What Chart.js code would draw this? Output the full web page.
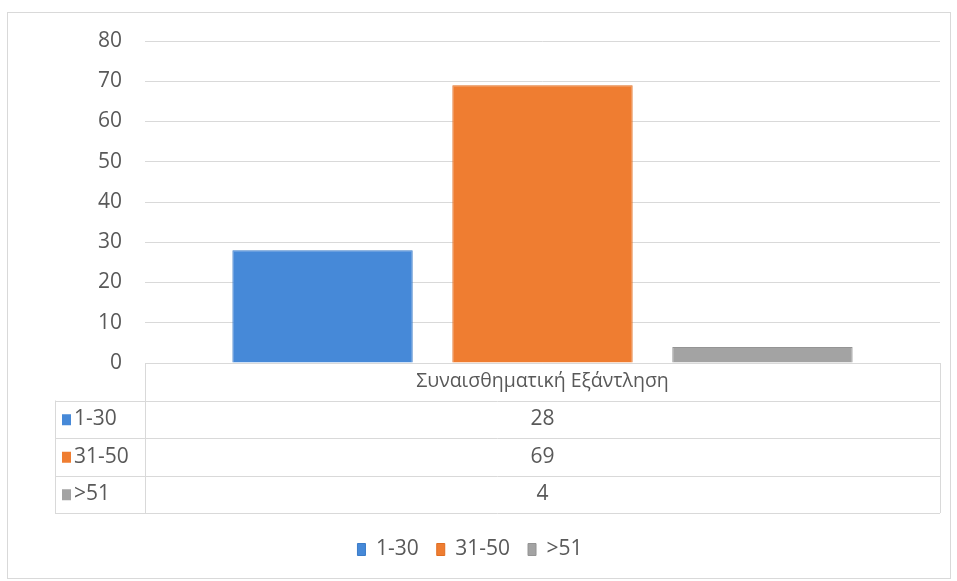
<!DOCTYPE html>
<html>
<head>
<meta charset="utf-8">
<script src="https://cdn.jsdelivr.net/npm/chart.js@4.4.1/dist/chart.umd.min.js"></script>
<style>
  html, body { margin: 0; padding: 0; background: #fff; }
  #wrap { width: 957px; height: 581px; }
</style>
</head>
<body>
<div id="wrap"><canvas id="chart"></canvas></div>
<script>
// data
const categories = ['Συναισθηματική Εξάντληση'];
const seriesNames = ['1-30', '31-50', '>51'];
const values1to30 = [28];
const values31to50 = [69];
const valuesOver51 = [4];
const yMin = 0, yMax = 80, yStep = 10;

const fillColors = ['#4689d8', '#ef7d31', '#a3a3a3'];
const edgeColors = ['#3b7cc8', '#e06e22', '#949494'];
const textColor = '#595959';
const lineColor = '#d9d9d9';
const fontFamily = '"Open Sans", "Noto Sans", sans-serif';
const fontSize = 21;
const headerSize = 19.5;

/* white page and the light frame around the whole chart */
const framePlugin = {
  id: 'frame',
  beforeDraw(chart) {
    const ctx = chart.ctx;
    ctx.save();
    ctx.fillStyle = '#fff';
    ctx.fillRect(0, 0, chart.width, chart.height);
    ctx.strokeStyle = lineColor;
    ctx.lineWidth = 1;
    ctx.strokeRect(7.5, 12.5, 943, 566);
    ctx.restore();
  }
};

/* excel style data table under the plot */
const tablePlugin = {
  id: 'dataTable',
  afterDraw(chart) {
    const ctx = chart.ctx;
    const area = chart.chartArea;
    const rowH = 37.5;
    const left = 55;
    const top = area.bottom;
    const bottom = top + rowH * 4;
    const midX = (area.left + area.right) / 2;

    ctx.save();
    ctx.strokeStyle = lineColor;
    ctx.lineWidth = 1;
    ctx.beginPath();
    // top line (axis) only over the plot
    ctx.moveTo(area.left, Math.round(top) + 0.5);
    ctx.lineTo(area.right, Math.round(top) + 0.5);
    for (let k = 1; k <= 4; k++) {
      const y = Math.round(top + rowH * k) + 0.5;
      ctx.moveTo(left, y);
      ctx.lineTo(area.right, y);
    }
    ctx.moveTo(Math.round(area.left) + 0.5, top);
    ctx.lineTo(Math.round(area.left) + 0.5, bottom);
    ctx.moveTo(Math.round(area.right) + 0.5, top);
    ctx.lineTo(Math.round(area.right) + 0.5, bottom);
    ctx.moveTo(left + 0.5, top + rowH);
    ctx.lineTo(left + 0.5, bottom);
    ctx.stroke();

    ctx.fillStyle = textColor;
    ctx.textBaseline = 'middle';
    ctx.textAlign = 'center';
    ctx.font = headerSize + 'px ' + fontFamily;
    ctx.fillText(categories[0], midX, top + rowH / 2);

    ctx.font = fontSize + 'px ' + fontFamily;
    chart.data.datasets.forEach((ds, i) => {
      const cy = top + rowH * (i + 1.5);
      ctx.fillStyle = fillColors[i];
      ctx.fillRect(62, cy - 5, 9, 11);
      ctx.fillStyle = textColor;
      ctx.textAlign = 'left';
      ctx.fillText(ds.label, 74, cy);
      ctx.textAlign = 'center';
      ctx.fillText(String(ds.data[0]), midX, cy);
    });
    ctx.restore();
  }
};

const ctx = document.getElementById('chart').getContext('2d');
const allValues = [values1to30, values31to50, valuesOver51];

new Chart(ctx, {
  type: 'bar',
  data: {
    labels: categories,
    datasets: seriesNames.map((name, i) => ({
      label: name,
      data: allValues[i],
      backgroundColor: fillColors[i],
      borderColor: edgeColors[i],
      borderWidth: 1,
      categoryPercentage: 0.83,
      barPercentage: 0.82
    }))
  },
  options: {
    responsive: true,
    maintainAspectRatio: false,
    animation: false,
    layout: { padding: { top: 41, right: 17, bottom: 11, left: 0 } },
    scales: {
      x: {
        grid: { display: false },
        border: { display: false },
        ticks: { display: false },
        afterFit: s => { s.height = 158; }
      },
      y: {
        min: yMin,
        max: yMax,
        ticks: {
          stepSize: yStep,
          color: textColor,
          font: { family: fontFamily, size: fontSize },
          padding: 23
        },
        grid: { color: lineColor, drawTicks: false },
        border: { display: false },
        afterFit: s => { s.width = 145; }
      }
    },
    plugins: {
      legend: {
        position: 'bottom',
        labels: {
          boxWidth: 8,
          boxHeight: 12,
          padding: 18,
          color: textColor,
          font: { family: fontFamily, size: fontSize }
        }
      },
      tooltip: { enabled: false }
    }
  },
  plugins: [framePlugin, tablePlugin]
});
</script>
</body>
</html>
